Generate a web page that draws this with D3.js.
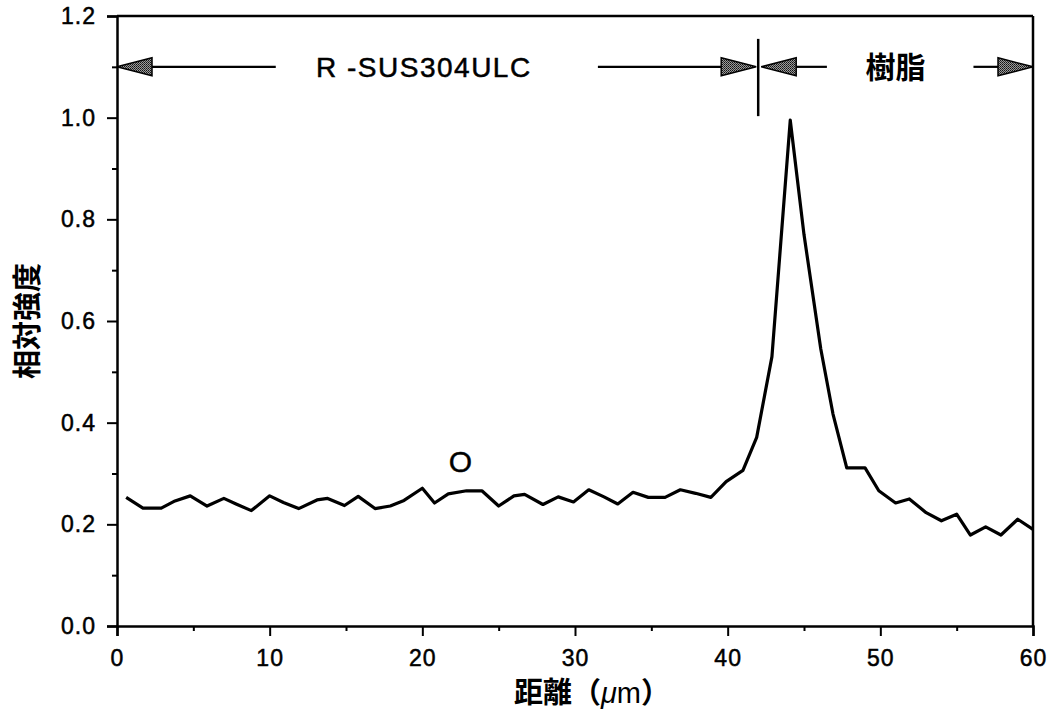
<!DOCTYPE html>
<html>
<head>
<meta charset="utf-8">
<script src="https://cdn.jsdelivr.net/npm/d3@7"></script>
<style>
  body { margin: 0; background: #fff; }
</style>
</head>
<body>
<div id="chart"></div>
<script>
// 距離 (µm) for each measured point
const distance = [
  0.6, 1.7, 2.9, 3.8, 4.8, 5.9, 7.0, 7.8, 8.8, 10.0,
  10.9, 11.9, 13.1, 13.8, 14.9, 15.8, 16.9, 17.9, 18.8, 20.0,
  20.8, 21.7, 22.9, 23.9, 25.0, 26.0, 26.7, 27.9, 28.9, 29.9,
  30.9, 31.9, 32.8, 33.8, 34.8, 35.9, 36.9, 37.9, 38.9, 39.9,
  41.0, 41.9, 42.9, 44.1, 45.0, 46.1, 46.9, 47.8, 49.0, 49.9,
  51.0, 51.9, 53.0, 54.0, 55.0, 55.9, 56.9, 57.9, 59.0, 60.0
];
// 相対強度 of O
const intensity = [
  0.253, 0.232, 0.232, 0.246, 0.256, 0.236, 0.251, 0.240, 0.227, 0.256,
  0.243, 0.231, 0.248, 0.251, 0.237, 0.255, 0.231, 0.236, 0.247, 0.271,
  0.242, 0.260, 0.266, 0.266, 0.236, 0.256, 0.259, 0.239, 0.254, 0.244,
  0.268, 0.254, 0.240, 0.263, 0.253, 0.253, 0.268, 0.261, 0.253, 0.284,
  0.306, 0.371, 0.530, 0.995, 0.770, 0.545, 0.417, 0.311, 0.311, 0.266,
  0.242, 0.250, 0.223, 0.207, 0.220, 0.179, 0.195, 0.179, 0.210, 0.190
];

const xTicks = [0, 10, 20, 30, 40, 50, 60];
const xMinorTicks = [5, 15, 25, 35, 45, 55];
const yTicks = [0, 0.2, 0.4, 0.6, 0.8, 1.0, 1.2];
const yMinorTicks = [0.1, 0.3, 0.5, 0.7, 0.9, 1.1];

// 領域 (region) annotation along the top
const regionNames = ["R -SUS304ULC", "樹脂"];
const regionStart = [0, 42];
const regionEnd = [42, 60];
const regionLabelAt = [20.1, 51.0];
const regionGapStart = [10.4, 46.5]; // where the left arrow shaft stops
const regionGapEnd = [31.5, 56.1];   // where the right arrow shaft starts
const regionLevel = 1.1;
const boundaryTop = 1.155;
const boundaryBottom = 1.003;

const seriesLabel = "O";
const seriesLabelAt = [22.5, 0.325];

const width = 1059, height = 715;
const margin = { top: 16, right: 26, bottom: 89, left: 117 };

const latin = "'Liberation Sans', Arial, Helvetica, sans-serif";
const cjk = "'Noto Sans CJK JP', 'Noto Sans CJK SC', sans-serif";

const svg = d3.select("#chart").append("svg")
  .attr("width", width)
  .attr("height", height)
  .style("background", "#fff");

const x = d3.scaleLinear().domain([0, 60]).range([margin.left, width - margin.right]);
const y = d3.scaleLinear().domain([0, 1.2]).range([height - margin.bottom, margin.top]);

// stipple fill for arrow heads
const defs = svg.append("defs");
const pat = defs.append("pattern")
  .attr("id", "stipple")
  .attr("width", 2).attr("height", 2)
  .attr("patternUnits", "userSpaceOnUse");
pat.append("rect").attr("width", 2).attr("height", 2).attr("fill", "#9a9a9a");
pat.append("rect").attr("width", 1).attr("height", 1).attr("fill", "#111");
pat.append("rect").attr("x", 1).attr("y", 1).attr("width", 1).attr("height", 1).attr("fill", "#333");

// frame: top and right
svg.append("line")
  .attr("x1", x(0)).attr("x2", x(60))
  .attr("y1", y(1.2)).attr("y2", y(1.2))
  .attr("stroke", "#000").attr("stroke-width", 2.5);
svg.append("line")
  .attr("x1", x(60)).attr("x2", x(60))
  .attr("y1", y(1.2)).attr("y2", y(0))
  .attr("stroke", "#000").attr("stroke-width", 2.5);

// axes
svg.append("g")
  .attr("transform", `translate(0,${y(0)})`)
  .call(d3.axisBottom(x).tickValues(xTicks).tickFormat(d3.format("d")).tickSize(10).tickPadding(14));
svg.append("g")
  .attr("transform", `translate(0,${y(0)})`)
  .call(d3.axisBottom(x).tickValues(xMinorTicks).tickFormat("").tickSize(5))
  .select(".domain").remove();

svg.append("g")
  .attr("transform", `translate(${x(0)},0)`)
  .call(d3.axisLeft(y).tickValues(yTicks).tickFormat(d3.format(".1f")).tickSize(10).tickPadding(11));
svg.append("g")
  .attr("transform", `translate(${x(0)},0)`)
  .call(d3.axisLeft(y).tickValues(yMinorTicks).tickFormat("").tickSize(5))
  .select(".domain").remove();

svg.selectAll(".domain").attr("stroke-width", 2.5);
svg.selectAll(".tick line").attr("stroke-width", 2);
svg.selectAll(".tick text")
  .attr("font-family", latin)
  .attr("font-size", 23)
  .attr("fill", "#000")
  .attr("stroke", "#000")
  .attr("stroke-width", 0.5)
  .attr("letter-spacing", 1);

// axis titles
svg.append("text")
  .attr("x", 592).attr("y", 703)
  .attr("text-anchor", "middle")
  .attr("font-family", cjk)
  .attr("font-size", 29)
  .attr("font-weight", 700)
  .call(t => {
    t.append("tspan").text("距離（");
    t.append("tspan").attr("font-style", "italic").attr("font-family", latin).attr("font-weight", 400).text("μ");
    t.append("tspan").attr("font-family", latin).attr("font-weight", 400).text("m");
    t.append("tspan").text("）");
  });

svg.append("text")
  .attr("transform", `translate(38,${(y(0) + y(1.2)) / 2}) rotate(-90)`)
  .attr("text-anchor", "middle")
  .attr("font-family", cjk)
  .attr("font-size", 29)
  .attr("font-weight", 700)
  .text("相対強度");

// data line
const line = d3.line()
  .x((d, i) => x(distance[i]))
  .y(d => y(d));

svg.append("path")
  .datum(intensity)
  .attr("d", line)
  .attr("fill", "none")
  .attr("stroke", "#000")
  .attr("stroke-width", 3.2)
  .attr("stroke-linejoin", "round");

svg.append("text")
  .attr("x", x(seriesLabelAt[0])).attr("y", y(seriesLabelAt[1]))
  .attr("text-anchor", "middle")
  .attr("dy", "0.36em")
  .attr("font-family", latin)
  .attr("font-size", 30)
  .attr("stroke", "#000")
  .attr("stroke-width", 0.4)
  .text(seriesLabel);

// region arrows
const headLen = 35, headHalf = 9;
function arrowHead(tipX, dir) {
  // dir = -1 points left, +1 points right
  const ay = y(regionLevel);
  const baseX = tipX - dir * headLen;
  svg.append("path")
    .attr("d", `M${tipX},${ay} L${baseX},${ay - headHalf} L${baseX},${ay + headHalf} Z`)
    .attr("fill", "url(#stipple)")
    .attr("stroke", "#000")
    .attr("stroke-width", 1.5)
    .attr("stroke-linejoin", "miter");
}

regionNames.forEach((name, i) => {
  const ay = y(regionLevel);
  const left = x(regionStart[i]) + (i > 0 ? 3 : 0);
  const right = x(regionEnd[i]) - (i === 0 ? 2 : 0);
  svg.append("line")
    .attr("x1", left + headLen).attr("x2", x(regionGapStart[i]))
    .attr("y1", ay).attr("y2", ay)
    .attr("stroke", "#000").attr("stroke-width", 2.2);
  svg.append("line")
    .attr("x1", x(regionGapEnd[i])).attr("x2", right - headLen)
    .attr("y1", ay).attr("y2", ay)
    .attr("stroke", "#000").attr("stroke-width", 2.2);
  arrowHead(left, -1);
  arrowHead(right, 1);
  const isCjk = /[^\x00-\x7F]/.test(name);
  svg.append("text")
    .attr("x", x(regionLabelAt[i])).attr("y", ay)
    .attr("dy", "0.36em")
    .attr("text-anchor", "middle")
    .attr("font-family", isCjk ? cjk : latin)
    .attr("font-size", isCjk ? 30 : 28)
    .attr("font-weight", isCjk ? 700 : 400)
    .attr("letter-spacing", isCjk ? 0 : 1.5)
    .attr("stroke", isCjk ? "none" : "#000")
    .attr("stroke-width", 0.5)
    .text(name);
});

// boundary between the two regions
svg.append("line")
  .attr("x1", x(regionEnd[0])).attr("x2", x(regionEnd[0]))
  .attr("y1", y(boundaryTop)).attr("y2", y(boundaryBottom))
  .attr("stroke", "#000").attr("stroke-width", 2.5);
</script>
</body>
</html>
